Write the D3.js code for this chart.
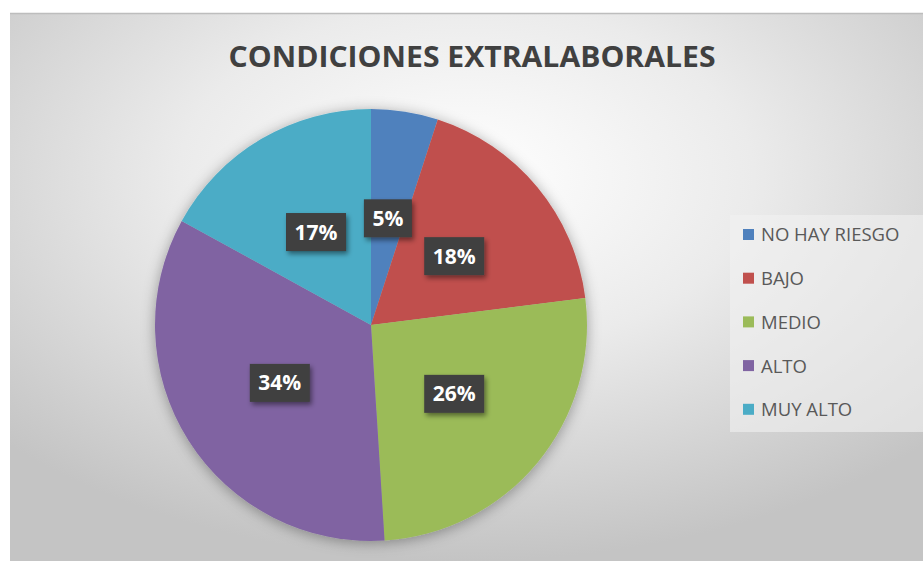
<!DOCTYPE html>
<html>
<head>
<meta charset="utf-8">
<script src="https://cdn.jsdelivr.net/npm/d3@7"></script>
<style>
  body { margin: 0; background: #fff; }
  svg { display: block; }
</style>
</head>
<body>
<div id="chart"></div>
<script>
// data
var categories = ['NO HAY RIESGO', 'BAJO', 'MEDIO', 'ALTO', 'MUY ALTO'];
var values = [5, 18, 26, 34, 17];
var labels = ['5%', '18%', '26%', '34%', '17%'];
var colors = ['#4F81BD', '#C0504D', '#9BBB59', '#8064A2', '#4BACC6'];
var chartTitle = 'CONDICIONES EXTRALABORALES';

var width = 923, height = 561;
var cx = 371, cy = 325, radius = 216;

var svg = d3.select('#chart').append('svg')
  .attr('width', width)
  .attr('height', height);

var defs = svg.append('defs');

// background gradient
var grad = defs.append('radialGradient')
  .attr('id', 'bg')
  .attr('cx', '50%').attr('cy', '30%').attr('r', '70%');
grad.append('stop').attr('offset', '0%').attr('stop-color', '#ffffff');
grad.append('stop').attr('offset', '45%').attr('stop-color', '#ebebeb');
grad.append('stop').attr('offset', '100%').attr('stop-color', '#c4c4c4');

// soft shadows
var sh = defs.append('filter').attr('id', 'pieShadow')
  .attr('x', '-20%').attr('y', '-20%').attr('width', '140%').attr('height', '140%');
sh.append('feDropShadow').attr('dx', 0).attr('dy', 2).attr('stdDeviation', 7)
  .attr('flood-color', '#000').attr('flood-opacity', 0.35);

var lsh = defs.append('filter').attr('id', 'lblShadow')
  .attr('x', '-30%').attr('y', '-30%').attr('width', '160%').attr('height', '160%');
lsh.append('feDropShadow').attr('dx', 2).attr('dy', 3).attr('stdDeviation', 2.5)
  .attr('flood-color', '#000').attr('flood-opacity', 0.45);

// chart area
svg.append('rect')
  .attr('x', 10).attr('y', 13)
  .attr('width', width - 10).attr('height', height - 13)
  .attr('fill', 'url(#bg)');
svg.append('line')
  .attr('x1', 10).attr('x2', width).attr('y1', 13.5).attr('y2', 13.5)
  .attr('stroke', '#bdbdbd').attr('stroke-width', 1.5);

// title
svg.append('text')
  .attr('x', 472).attr('y', 67)
  .attr('text-anchor', 'middle')
  .attr('font-family', 'Open Sans, sans-serif')
  .attr('font-weight', 'bold')
  .attr('font-size', 29)
  .attr('fill', '#404040')
  .attr('textLength', 487)
  .attr('lengthAdjust', 'spacingAndGlyphs')
  .text(chartTitle);

// pie
var pie = d3.pie().sort(null).value(function(d) { return d; });
var arc = d3.arc().innerRadius(0).outerRadius(radius);
var arcs = pie(values);

var g = svg.append('g').attr('transform', 'translate(' + cx + ',' + cy + ')');

g.append('g').attr('filter', 'url(#pieShadow)')
  .selectAll('path')
  .data(arcs)
  .enter()
  .append('path')
  .attr('d', arc)
  .attr('fill', function(d, i) { return colors[i]; });

// data labels
var lbl = g.selectAll('.lbl')
  .data(arcs)
  .enter()
  .append('g')
  .attr('class', 'lbl')
  .attr('transform', function(d) {
    var c = arc.centroid(d);
    return 'translate(' + c[0] + ',' + c[1] + ')';
  });

lbl.append('rect')
  .attr('x', function(d, i) { return labels[i].length > 2 ? -30 : -24; })
  .attr('y', -19)
  .attr('width', function(d, i) { return labels[i].length > 2 ? 60 : 48; })
  .attr('height', 38)
  .attr('fill', '#3f3f3f')
  .attr('filter', 'url(#lblShadow)');

lbl.append('text')
  .attr('text-anchor', 'middle')
  .attr('dy', '0.36em')
  .attr('font-family', 'Open Sans, sans-serif')
  .attr('font-weight', 'bold')
  .attr('font-size', 21)
  .attr('fill', '#ffffff')
  .text(function(d, i) { return labels[i]; });

// legend
var legend = svg.append('g').attr('transform', 'translate(730,215)');
legend.append('rect')
  .attr('width', 193).attr('height', 217)
  .attr('fill', '#f2f2f2').attr('fill-opacity', 0.6);

var item = legend.selectAll('.item')
  .data(categories)
  .enter()
  .append('g')
  .attr('class', 'item')
  .attr('transform', function(d, i) { return 'translate(0,' + (20 + i * 43.7) + ')'; });

item.append('rect')
  .attr('x', 13).attr('y', -6)
  .attr('width', 11).attr('height', 11)
  .attr('fill', function(d, i) { return colors[i]; });

item.append('text')
  .attr('x', 31).attr('y', 0)
  .attr('dy', '0.35em')
  .attr('font-family', 'Open Sans, sans-serif')
  .attr('font-size', 18.5)
  .attr('fill', '#595959')
  .text(function(d) { return d; });
</script>
</body>
</html>
